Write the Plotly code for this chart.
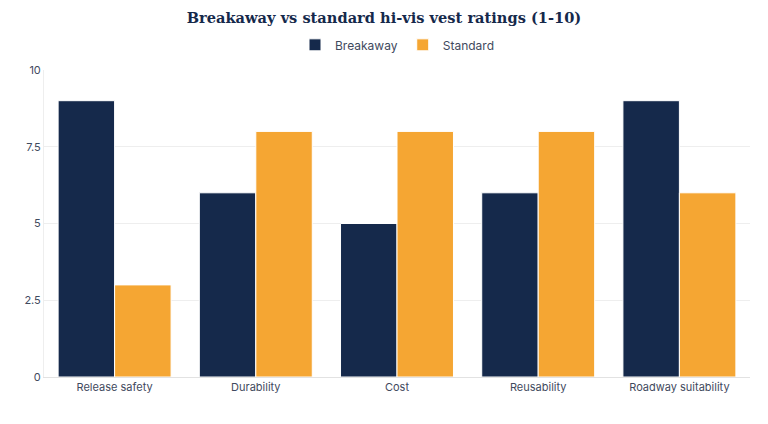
import plotly.graph_objects as go

categories = ["Release safety", "Durability", "Cost", "Reusability", "Roadway suitability"]
breakaway = [9, 6, 5, 6, 9]
standard = [3, 8, 8, 8, 6]
tick_vals = [0, 2.5, 5, 7.5, 10]
tick_text = ["0", "2.5", "5", "7.5", "10"]

fig = go.Figure()
fig.add_trace(go.Bar(name="Breakaway", x=categories, y=breakaway,
                     marker=dict(color="#15294b", line=dict(color="white", width=1))))
fig.add_trace(go.Bar(name="Standard", x=categories, y=standard,
                     marker=dict(color="#f5a633", line=dict(color="white", width=1))))

fig.update_layout(
    width=768, height=424,
    margin=dict(l=44, r=18, t=70, b=47),
    paper_bgcolor="white", plot_bgcolor="white",
    barmode="group", bargap=0.2, bargroupgap=0.0,
    font=dict(family="Inter, Roboto, sans-serif", size=11, color="#3f4a5e"),
    title=dict(text="<b>Breakaway vs standard hi-vis vest ratings (1-10)</b>",
               x=0.5, xanchor="center", y=0.957, yanchor="middle",
               font=dict(family="DejaVu Serif, serif", size=14.6, color="#15294b")),
    legend=dict(orientation="h", x=0.5, xanchor="center", y=1.082, yanchor="middle",
                font=dict(size=12, color="#3f4a5e")),
    xaxis=dict(showline=True, linecolor="#e2e2e2", ticks="", showgrid=False,
               tickfont=dict(size=11)),
    yaxis=dict(range=[0, 10], tickvals=tick_vals, ticktext=tick_text,
               showgrid=True, gridcolor="#eeeeee", showline=True, linecolor="#eeeeee",
               zeroline=False, ticks="", tickfont=dict(size=11)),
)
fig.write_html("out.html")
